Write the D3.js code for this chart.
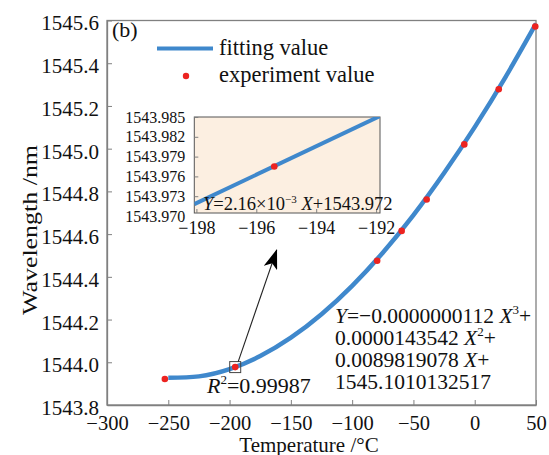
<!DOCTYPE html>
<html>
<head>
<meta charset="utf-8">
<script src="https://cdn.jsdelivr.net/npm/d3@7"></script>
<style>
  body { margin: 0; background: #fff; }
  svg { display: block; }
  svg text { font-family: "Liberation Serif", "DejaVu Serif", serif; fill: #111; }
  .axis path, .axis line { stroke: #808080; }
</style>
</head>
<body>
<svg id="chart" width="549" height="455"></svg>
<script>
// fitted curve
var fitTemp = [-250, -225, -200, -175, -150, -125, -100, -75, -50, -25, 0, 25, 50];
var fitWave = [1543.928, 1543.934, 1543.968, 1544.029, 1544.115, 1544.225, 1544.358, 1544.513, 1544.689, 1544.886, 1545.101, 1545.334, 1545.585];

// measured points
var expTemp = [-252.8, -195.4, -79.6, -59.6, -39.2, -8.5, 19.6, 49.4];
var expWave = [1543.922, 1543.9775, 1544.475, 1544.615, 1544.762, 1545.02, 1545.278, 1545.572];

// zoomed inset
var insetTemp = [-198.07, -191.8];
var insetWave = [1543.9718, 1543.9853];
var insetPoint = 1; // index into expTemp / expWave

var xTicks = [-300, -250, -200, -150, -100, -50, 0, 50];
var yTicks = [1543.8, 1544.0, 1544.2, 1544.4, 1544.6, 1544.8, 1545.0, 1545.2, 1545.4, 1545.6];
var insetXTicks = [-198, -196, -194, -192];
var insetYTicks = [1543.970, 1543.973, 1543.976, 1543.979, 1543.982, 1543.985];

var blue = "#3f88cc", red = "#ec2320";
var minus = function(s) { return String(s).replace("-", "\u2212"); };

var svg = d3.select("#chart");

var x = d3.scaleLinear().domain([-300, 50]).range([107, 536]);
var y = d3.scaleLinear().domain([1543.8, 1545.6]).range([405, 20.5]);

// frame
svg.append("rect")
  .attr("x", 107).attr("y", 20.5).attr("width", 429).attr("height", 384.5)
  .attr("fill", "none").attr("stroke", "#808080").attr("stroke-width", 1.3);

var xAxis = svg.append("g").attr("class", "axis")
  .attr("transform", "translate(0,405)")
  .call(d3.axisBottom(x).tickValues(xTicks).tickSizeInner(-5).tickSizeOuter(0).tickPadding(10)
    .tickFormat(function(d) { return minus(d); }));
xAxis.attr("font-family", null);
xAxis.selectAll("text").attr("font-size", 20.5);
xAxis.select(".domain").attr("stroke-width", 1.3);

var yAxis = svg.append("g").attr("class", "axis")
  .attr("transform", "translate(107,0)")
  .call(d3.axisLeft(y).tickValues(yTicks).tickSizeInner(-5).tickSizeOuter(0).tickPadding(8)
    .tickFormat(d3.format(".1f")));
yAxis.attr("font-family", null);
yAxis.selectAll("text").attr("font-size", 21).attr("dy", "0.45em");
yAxis.select(".domain").attr("stroke-width", 1.3);

// axis titles
svg.append("text").attr("x", 309).attr("y", 452).attr("text-anchor", "middle")
  .attr("font-size", 21).text("Temperature /\u00b0C");
svg.append("text").attr("transform", "translate(37,230) rotate(-90)")
  .attr("text-anchor", "middle").attr("font-size", 22)
  .attr("textLength", 170).attr("lengthAdjust", "spacingAndGlyphs")
  .text("Wavelength /nm");

// fitted line
var line = d3.line()
  .x(function(d) { return x(d[0]); })
  .y(function(d) { return y(d[1]); })
  .curve(d3.curveNatural);
svg.append("path")
  .datum(d3.zip(fitTemp, fitWave))
  .attr("d", line)
  .attr("fill", "none").attr("stroke", blue).attr("stroke-width", 4.5);

svg.selectAll("circle.exp")
  .data(d3.zip(expTemp, expWave))
  .enter().append("circle")
  .attr("class", "exp")
  .attr("cx", function(d) { return x(d[0]); })
  .attr("cy", function(d) { return y(d[1]); })
  .attr("r", 3.3).attr("fill", red);

// legend + panel tag
svg.append("text").attr("x", 112).attr("y", 37).attr("font-size", 22).text("(b)");
svg.append("line").attr("x1", 157).attr("x2", 213).attr("y1", 48.5).attr("y2", 48.5)
  .attr("stroke", blue).attr("stroke-width", 4);
svg.append("text").attr("x", 219).attr("y", 55).attr("font-size", 22.5).text("fitting value");
svg.append("circle").attr("cx", 186).attr("cy", 76).attr("r", 3.2).attr("fill", red);
svg.append("text").attr("x", 219).attr("y", 82).attr("font-size", 22.5).text("experiment value");

// marker square + arrow to the inset
var px = x(expTemp[insetPoint]), py = y(expWave[insetPoint]);
svg.append("rect").attr("x", px - 5.5).attr("y", py - 5.5).attr("width", 11).attr("height", 11)
  .attr("fill", "none").attr("stroke", "#444").attr("stroke-width", 1);

svg.append("defs").append("marker")
  .attr("id", "head").attr("viewBox", "0 0 20 14").attr("refX", 19).attr("refY", 7)
  .attr("markerWidth", 20).attr("markerHeight", 14).attr("markerUnits", "userSpaceOnUse")
  .attr("orient", "auto")
  .append("path").attr("d", "M0,0 L20,7 L0,14 L5,7 Z").attr("fill", "#000");
svg.append("line")
  .attr("x1", px + 3).attr("y1", py - 5.5).attr("x2", 276.7).attr("y2", 250)
  .attr("stroke", "#222").attr("stroke-width", 1.1).attr("marker-end", "url(#head)");

// equation text
var eq = svg.append("text").attr("x", 335).attr("y", 323).attr("font-size", 21.5);
eq.append("tspan").attr("font-style", "italic").text("Y");
eq.append("tspan").text("=\u22120.0000000112 ");
eq.append("tspan").attr("font-style", "italic").text("X");
eq.append("tspan").attr("dy", -9).attr("font-size", 13).text("3");
eq.append("tspan").attr("dy", 9).text("+");

var eq2 = svg.append("text").attr("x", 335).attr("y", 345).attr("font-size", 21.5);
eq2.append("tspan").text("0.0000143542 ");
eq2.append("tspan").attr("font-style", "italic").text("X");
eq2.append("tspan").attr("dy", -9).attr("font-size", 13).text("2");
eq2.append("tspan").attr("dy", 9).text("+");

var eq3 = svg.append("text").attr("x", 335).attr("y", 367).attr("font-size", 21.5);
eq3.append("tspan").text("0.0089819078 ");
eq3.append("tspan").attr("font-style", "italic").text("X");
eq3.append("tspan").text("+");

svg.append("text").attr("x", 335).attr("y", 389).attr("font-size", 21.5).text("1545.1010132517");

var r2 = svg.append("text").attr("x", 207).attr("y", 393).attr("font-size", 22);
r2.append("tspan").attr("font-style", "italic").text("R");
r2.append("tspan").attr("dy", -9).attr("font-size", 13).text("2");
r2.append("tspan").attr("dy", 9).text("=0.99987");

// inset
var ix = d3.scaleLinear().domain([-198.07, -191.87]).range([194.3, 380]);
var iy = d3.scaleLinear().domain([1543.970, 1543.985]).range([216, 117]);
var inset = svg.append("g");

inset.append("defs").append("clipPath").attr("id", "insetClip")
  .append("rect").attr("x", 194.3).attr("y", 117).attr("width", 185.7).attr("height", 96);
inset.append("rect").attr("x", 194.3).attr("y", 117).attr("width", 185.7).attr("height", 96)
  .attr("fill", "#fcefe1").attr("stroke", "#555").attr("stroke-width", 1);

var ixAxis = inset.append("g").attr("class", "axis")
  .attr("transform", "translate(0,213)")
  .call(d3.axisBottom(ix).tickValues(insetXTicks).tickSizeInner(-4).tickSizeOuter(0).tickPadding(8)
    .tickFormat(function(d) { return minus(d); }));
ixAxis.attr("font-family", null);
ixAxis.selectAll("text").attr("font-size", 18);
ixAxis.select(".domain").remove();

var iyAxis = inset.append("g").attr("class", "axis")
  .attr("transform", "translate(194.3,0)")
  .call(d3.axisLeft(iy).tickValues(insetYTicks).tickSizeInner(-4).tickSizeOuter(0).tickPadding(9)
    .tickFormat(d3.format(".3f")));
iyAxis.attr("font-family", null);
iyAxis.selectAll("text").attr("font-size", 16);
iyAxis.selectAll("line").filter(function(d) { return d === insetYTicks[0]; }).remove();
iyAxis.select(".domain").remove();

var iline = d3.line()
  .x(function(d) { return ix(d[0]); })
  .y(function(d) { return iy(d[1]); });
inset.append("path")
  .datum(d3.zip(insetTemp, insetWave))
  .attr("d", iline).attr("clip-path", "url(#insetClip)")
  .attr("fill", "none").attr("stroke", blue).attr("stroke-width", 4);
inset.append("circle")
  .attr("cx", ix(expTemp[insetPoint])).attr("cy", iy(expWave[insetPoint]))
  .attr("r", 3.3).attr("fill", red);

var ieq = inset.append("text").attr("x", 203).attr("y", 209.5).attr("font-size", 18.5);
ieq.append("tspan").attr("font-style", "italic").text("Y");
ieq.append("tspan").text("=2.16\u00d710");
ieq.append("tspan").attr("dy", -7).attr("font-size", 11).text("\u22123");
ieq.append("tspan").attr("dy", 7).text(" ");
ieq.append("tspan").attr("font-style", "italic").text("X");
ieq.append("tspan").text("+1543.972");
</script>
</body>
</html>
